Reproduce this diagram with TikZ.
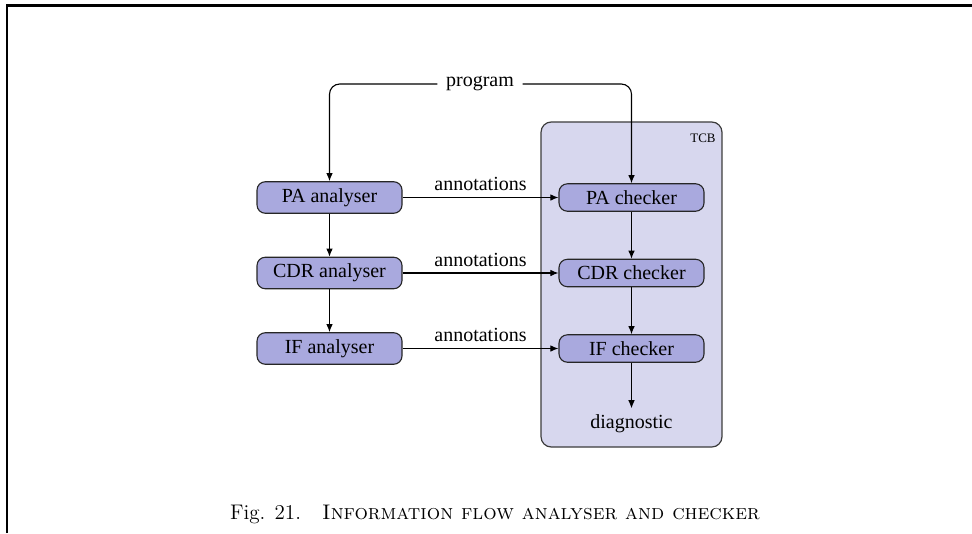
\documentclass[tikz,border=0pt]{standalone}
\usepackage{fontspec}
\newfontfamily\palafont{Liberation Serif}
\usetikzlibrary{arrows.meta}
\definecolor{nodefill}{RGB}{169,169,222}
\definecolor{tcbfill}{RGB}{215,215,238}
\definecolor{tcbdraw}{RGB}{60,60,60}
\begin{document}
\begin{tikzpicture}[x=0.54pt,y=-0.54pt,
  box/.style={draw=black!85, fill=nodefill, rounded corners=4.5pt, minimum width=78.3pt,
    inner ysep=3.6pt, font=\palafont\fontsize{10.8}{13}\selectfont, line width=0.6pt},
  arr/.style={-{Latex[length=4.4pt,width=3.6pt]}, line width=0.6pt},
  lbl/.style={font=\palafont\fontsize{10.8}{13}\selectfont},
  tcbbox/.style={draw=tcbdraw, fill=tcbfill, rounded corners=5.5pt, line width=0.65pt,
    inner sep=0pt, minimum width=97.7pt, minimum height=175.5pt}]
\useasboundingbox (0,0) rectangle (972,533);
% page frame
\draw[line width=1.1pt] (7,533) -- (7,4.5);
\draw[line width=1.6pt] (6.4,5.5) -- (972,5.5);
% trusted computing base
\node[tcbbox] (tcb) at (631.5,284.5) {};
\node[font=\palafont\fontsize{7}{8}\selectfont] (tcblabel) at (703,138) {TCB};
% analysers
\node[box] (paa) at (329.5,197.5) {PA analyser};
\node[box] (cdra) at (329.5,273) {CDR analyser};
\node[box] (ifa) at (329.5,348.5) {IF analyser};
% checkers
\node[box] (pac) at (631.5,197.5) {PA checker};
\node[box] (cdrc) at (631.5,273) {CDR checker};
\node[box] (ifc) at (631.5,348.5) {IF checker};
% other texts
\node[lbl, inner xsep=4.5pt] (prog) at (480,84) {program};
\node[lbl] (diag) at (631.5,424) {diagnostic};
% connectors
\draw[arr, rounded corners=5.5pt] (prog.west) -| (paa.north);
\draw[arr, rounded corners=5.5pt] (prog.east) -| (pac.north);
\draw[arr] (paa) -- node[above, lbl] (ann1) {annotations} (pac);
\draw[arr] (cdra) -- node[above, lbl] (ann2) {annotations} (cdrc);
\draw[arr] (ifa) -- node[above, lbl] (ann3) {annotations} (ifc);
\draw[arr] (paa) -- (cdra);
\draw[arr] (cdra) -- (ifa);
\draw[arr] (pac) -- (cdrc);
\draw[arr] (cdrc) -- (ifc);
\draw[arr] (ifc) -- (diag);
% caption
\node[font=\fontsize{11.4}{13}\selectfont] (cap) at (495,514)
  {Fig. 21.\quad\textsc{Information flow analyser and checker}};
\end{tikzpicture}
\end{document}
